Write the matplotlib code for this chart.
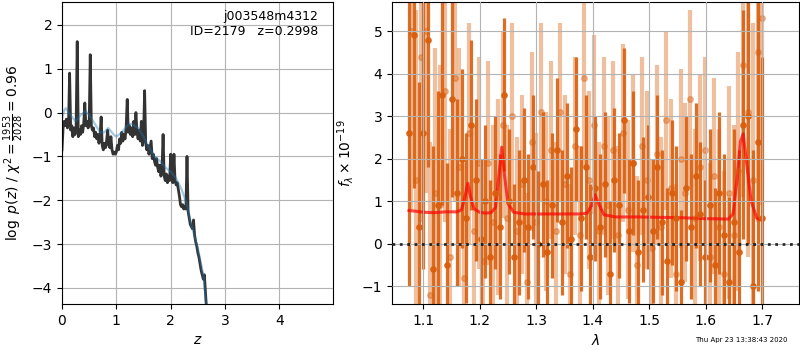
import numpy as np
import matplotlib
matplotlib.use('Agg')
import matplotlib.pyplot as plt

# ---------------------------------------------------------------------------
# p(z) panel data
# ---------------------------------------------------------------------------
z_grid = np.linspace(0.0, 2.66, 134)
logpz = [
    -0.85, -0.35, -0.20, -0.30, -0.15, -0.35, -0.25, 0.90, -0.40, -0.30,
    -0.55, -0.35, -0.50, -0.30, 1.62, -0.55, -0.40, -0.50, -0.30, -0.45,
    -0.25, 0.22, -0.30, -0.20, -0.35, -0.25, 1.32, -0.30, -0.40, -0.35,
    -0.55, -0.45, -0.60, -0.50, -0.70, -0.55, -0.10, -0.75, -0.85, -0.70,
    -0.80, -0.65, -0.40, -0.75, -0.80, -0.55, -0.85, -0.95, -0.90, -0.95,
    -0.90, -0.75, -0.85, -0.60, -0.70, -0.45, -0.65, -0.50, -0.60, -0.35,
    0.30, -0.45, -0.30, -0.50, -0.35, -0.55, -0.20, -0.50, 0.00, -0.45,
    -0.60, -0.40, -0.65, -0.20, -0.75, -0.55, 0.50, -0.70, -0.85, -0.75,
    -0.95, -0.80, -0.65, -1.05, -0.95, -1.10, -1.20, -1.05, -1.25, -1.35,
    -1.20, -1.45, -1.30, -0.50, -1.45, -1.55, -1.40, -1.60, -1.45, -1.55,
    -0.95, -1.50, -1.60, -0.95, -1.55, -1.65, -1.60, -1.75, -1.90, -2.10,
    -2.15, -2.10, -2.20, -2.15, -2.20, -1.00, -2.25, -2.40, -2.55, -2.60,
    -2.65, -2.45, -2.80, -2.95, -3.05, -3.20, -3.30, -3.45, -3.60, -3.70,
    -3.80, -3.70, -4.10, -4.50,
]

z_smooth = [0.00, 0.04, 0.07, 0.15, 0.25, 0.35, 0.43, 0.50, 0.60, 0.70,
            0.78, 0.85, 0.95, 1.00, 1.10, 1.20, 1.28, 1.40, 1.50, 1.60,
            1.70, 1.80, 1.90, 2.00, 2.10, 2.20, 2.30, 2.35, 2.40, 2.50,
            2.60, 2.66]
logpz_smooth = [-0.15, 0.05, 0.10, -0.05, -0.20, -0.05, 0.03, -0.05, -0.25, -0.45,
                -0.45, -0.35, -0.50, -0.55, -0.45, -0.30, -0.25, -0.35, -0.55, -0.80,
                -1.00, -1.10, -1.25, -1.35, -1.50, -1.75, -2.10, -2.40, -2.65, -3.10,
                -3.70, -4.45]

# ---------------------------------------------------------------------------
# spectrum panel data (two extractions)
# ---------------------------------------------------------------------------
wave_a = np.linspace(1.075, 1.700, 75)
flux_a = [
    2.6, 4.9, 0.4, 2.6, 4.8, -0.6, 0.9, 3.5, -0.5, 3.4,
    1.2, 2.0, 0.6, 2.8, 1.5, 0.1, 1.0, -0.3, 1.2, 0.4,
    3.5, 1.0, -0.3, 0.5, 1.5, 0.4, 1.8, 0.0, 1.4, -0.2,
    0.9, 2.2, 0.5, 1.6, 0.1, 2.7, 0.6, 1.8, -0.3, 1.3,
    0.4, 1.4, -0.7, 1.5, 0.9, 2.9, 0.3, 1.9, -0.2, 0.8,
    1.1, 0.3, 1.8, 0.5, -0.4, 1.2, 0.6, -0.9, 1.3, 0.4,
    1.6, 0.7, -0.3, 0.9, -0.5, 1.2, 0.2, -0.9, 0.5, -0.2,
    2.8, 3.0, -1.0, 2.4, 0.6,
]
err_a = [
    3.6, 3.6, 3.4, 3.2, 3.0, 2.9, 2.7, 2.6, 2.4, 2.3,
    2.2, 2.1, 2.0, 2.0, 1.9, 1.9, 1.8, 1.8, 1.8, 1.7,
    1.8, 1.7, 1.7, 1.7, 1.7, 1.7, 1.7, 1.7, 1.7, 1.7,
    1.7, 1.7, 1.7, 1.7, 1.7, 1.7, 1.7, 1.7, 1.7, 1.7,
    1.7, 1.7, 1.7, 1.7, 1.7, 1.7, 1.7, 1.7, 1.7, 1.7,
    1.7, 1.7, 1.7, 1.7, 1.7, 1.7, 1.7, 1.7, 1.7, 1.7,
    1.7, 1.7, 1.8, 1.8, 1.8, 1.9, 1.9, 2.0, 2.2, 2.4,
    2.7, 3.0, 3.2, 3.5, 3.8,
]

wave_b = np.linspace(1.079, 1.700, 74)
flux_b = [
    5.0, 1.5, 4.4, 5.0, -1.2, 1.2, 0.9, 3.6, -0.3, 3.9,
    1.8, -0.8, 2.6, 0.3, 1.9, -0.4, 1.9, 0.5, 1.1, 2.8,
    0.6, 3.0, 0.3, 1.4, -0.9, 2.4, 0.5, 3.1, 1.0, 2.2,
    0.3, 3.1, 1.4, -0.7, 2.3, 0.2, 3.9, 1.5, 2.8, 0.3,
    2.3, 0.9, 2.2, 0.2, 2.6, 0.8, 1.9, -0.5, 2.3, 1.5,
    -0.1, 2.1, 0.4, 2.9, 1.3, -0.7, 2.0, 1.2, 3.4, 0.6,
    1.8, 2.2, -0.3, 1.6, 0.4, -0.7, 1.2, 0.2, 1.7, 4.2,
    3.1, 1.5, 4.5, 5.3,
]
err_b = [
    4.2, 4.0, 3.9, 3.8, 3.6, 3.4, 3.3, 3.1, 3.0, 2.9,
    2.8, 2.7, 2.6, 2.5, 2.5, 2.4, 2.4, 2.3, 2.3, 2.2,
    2.2, 2.2, 2.2, 2.1, 2.1, 2.1, 2.1, 2.1, 2.1, 2.1,
    2.1, 2.1, 2.1, 2.1, 2.1, 2.1, 2.1, 2.1, 2.1, 2.1,
    2.1, 2.1, 2.1, 2.1, 2.1, 2.1, 2.1, 2.1, 2.1, 2.1,
    2.1, 2.1, 2.1, 2.1, 2.1, 2.1, 2.1, 2.1, 2.1, 2.1,
    2.2, 2.2, 2.2, 2.3, 2.3, 2.4, 2.5, 2.6, 2.8, 3.1,
    3.4, 3.7, 4.0, 4.4,
]

model_wave = [1.075, 1.09, 1.10, 1.12, 1.14, 1.16, 1.168, 1.174, 1.179, 1.184,
              1.19, 1.20, 1.21, 1.22, 1.228, 1.234, 1.239, 1.244, 1.25, 1.26,
              1.28, 1.30, 1.33, 1.36, 1.38, 1.39, 1.398, 1.404, 1.41, 1.42,
              1.44, 1.48, 1.52, 1.56, 1.60, 1.64, 1.648, 1.655, 1.661, 1.666,
              1.672, 1.68, 1.69, 1.70]
model_flux = [0.78, 0.76, 0.74, 0.73, 0.75, 0.75, 0.80, 1.10, 1.42, 1.10,
              0.82, 0.74, 0.72, 0.73, 0.85, 1.60, 2.27, 1.60, 0.95, 0.74,
              0.70, 0.70, 0.70, 0.70, 0.70, 0.72, 0.90, 1.15, 0.95, 0.68,
              0.63, 0.63, 0.62, 0.61, 0.59, 0.58, 0.70, 1.50, 2.40, 2.58,
              1.90, 1.00, 0.60, 0.55]

ORANGE = '#d95f0e'

fig = plt.figure(figsize=(8, 3.5), dpi=100)
ax1 = fig.add_axes([0.0775, 0.131, 0.339, 0.863])
ax2 = fig.add_axes([0.49, 0.131, 0.509, 0.863])

# ── p(z) ──────────────────────────────────────
ax1.plot(z_grid, logpz, color='0.2', lw=2)
ax1.plot(z_smooth, logpz_smooth, color='tab:blue', alpha=0.4, lw=1.6)
ax1.set_xlim(0, 4.99)
ax1.set_ylim(-4.37, 2.52)
ax1.set_xticks([0, 1, 2, 3, 4])
ax1.set_yticks([-4, -3, -2, -1, 0, 1, 2])
ax1.grid(color='0.7')
ax1.set_xlabel(r'$z$')
ax1.set_ylabel(r'$\log\ p(z)$ / $\chi^2=\frac{1953}{2028}=0.96$')
ax1.text(0.945, 0.975, 'j003548m4312\nID=2179   z=0.2998',
         transform=ax1.transAxes, ha='right', va='top', fontsize=9)

# ── spectrum ──────────────────────────────────
ax2.errorbar(wave_b, flux_b, yerr=err_b, marker='o', ms=4, ls='none',
             color=ORANGE, alpha=0.4, elinewidth=3)
ax2.errorbar(wave_a, flux_a, yerr=err_a, marker='o', ms=3.8, ls='none',
             color=ORANGE, alpha=0.9, elinewidth=2.3)
ax2.plot(model_wave, model_flux, color='red', alpha=0.7, lw=2.2)
ax2.axhline(0, color='k', ls=':', lw=2, alpha=0.8, zorder=10)
ax2.set_xlim(1.045, 1.765)
ax2.set_ylim(-1.42, 5.68)
ax2.set_xticks([1.1, 1.2, 1.3, 1.4, 1.5, 1.6, 1.7])
ax2.set_yticks([-1, 0, 1, 2, 3, 4, 5])
ax2.grid(color='0.7')
ax2.set_axisbelow(False)
ax2.set_xlabel(r'$\lambda$')
ax2.set_ylabel(r'$f_\lambda\times10^{-19}$')

fig.text(0.984, 0.02, 'Thu Apr 23 13:38:43 2020', ha='right', va='bottom',
         fontsize=5)

plt.savefig('out.png', dpi=100)
